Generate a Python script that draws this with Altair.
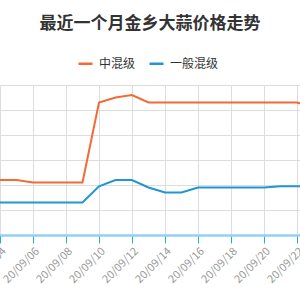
import altair as alt
import pandas as pd

dates = ["2020-09-%02d" % d for d in range(4, 24)]
mid_grade = [2.04, 2.04, 2.02, 2.02, 2.02, 2.02, 2.66, 2.70, 2.72, 2.66,
             2.66, 2.66, 2.66, 2.66, 2.66, 2.66, 2.66, 2.66, 2.66, 2.62]
gen_grade = [1.86, 1.86, 1.86, 1.86, 1.86, 1.86, 1.99, 2.04, 2.04, 1.98,
             1.94, 1.94, 1.98, 1.98, 1.98, 1.98, 1.98, 1.99, 1.99, 1.99]
series_names = ["中混级", "一般混级"]
colors = ["#f26a35", "#2196d3"]
tick_days = [4, 6, 8, 10, 12, 14, 16, 18, 20, 22]

rows = []
for d, a, b in zip(dates, mid_grade, gen_grade):
    rows.append({"date": d, "series": series_names[0], "price": a})
    rows.append({"date": d, "series": series_names[1], "price": b})
df = pd.DataFrame(rows)

font = "Noto Sans CJK SC"

chart = alt.Chart(df).mark_line(strokeWidth=2, clip=True).encode(
    x=alt.X("date:T",
            scale=alt.Scale(type="utc", domain=[alt.DateTime(year=2020, month=9, date=4, utc=True),
                                                alt.DateTime(year=2020, month=9, date=22, hours=4, minutes=22, utc=True)],
                            nice=False),
            axis=alt.Axis(title=None, format="%y/%m/%d",
                          values=[alt.DateTime(year=2020, month=9, date=d, utc=True) for d in tick_days],
                          labelAngle=-45, labelAlign="right", labelBaseline="top",
                          labelColor="#999999", labelFontSize=11, labelFont=font,
                          labelPadding=2, labelBound=False, labelOverlap=False, labelFlush=False,
                          domainColor="#8fd3f3", domainWidth=2.5,
                          tickColor="#29a8e0", tickSize=8, tickWidth=1,
                          grid=True, gridColor="#dddddd", gridWidth=1)),
    y=alt.Y("price:Q",
            scale=alt.Scale(domain=[1.6, 2.8], nice=False, zero=False),
            axis=alt.Axis(title=None, labels=False, ticks=False, domain=False,
                          values=[1.6, 1.8, 2.0, 2.2, 2.4, 2.6, 2.8],
                          grid=True, gridColor="#dddddd", gridWidth=1)),
    color=alt.Color("series:N",
                    scale=alt.Scale(domain=series_names, range=colors),
                    legend=alt.Legend(title=None, orient="none", direction="horizontal",
                                      legendX=77, legendY=-30,
                                      symbolType="stroke", symbolSize=196, symbolStrokeWidth=2.5,
                                      labelFont=font, labelFontSize=12, labelColor="#333333",
                                      labelOffset=5, columnPadding=8)),
).properties(
    width=300, height=150,
    title=alt.TitleParams("最近一个月金乡大蒜价格走势", font=font, fontSize=17,
                          fontWeight="bold", color="#333333", anchor="middle", offset=22),
    autosize=alt.AutoSizeParams(type="none"),
    padding={"left": 0, "top": 85, "right": 0, "bottom": 65},
).configure_view(stroke=None)

chart.save("out.html", embed_options={"renderer": "svg", "actions": False})
